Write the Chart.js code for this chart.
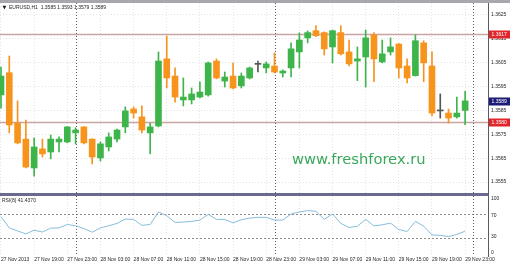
<!DOCTYPE html>
<html>
<head>
<meta charset="utf-8">
<script src="https://cdn.jsdelivr.net/npm/chart.js@4.4.1/dist/chart.umd.min.js"></script>
<style>
  html,body{margin:0;padding:0;background:#fff;}
  body{position:relative;width:510px;height:265px;overflow:hidden;}
  .topbar{position:absolute;left:0;top:0;width:510px;height:3px;background:#a8a8ac;}
  .pane{position:absolute;left:0;width:510px;}
  #paneMain{top:3px;height:193px;}
  #paneRsi{top:195px;height:70px;}
</style>
</head>
<body>
<div class="topbar"></div>
<div class="pane" id="paneMain"><canvas id="mainChart"></canvas></div>
<div class="pane" id="paneRsi"><canvas id="rsiChart"></canvas></div>
<script>
/* EURUSD H1, 27 Nov 15:00 -> 29 Nov 23:00, one candle per hour */
const SYMBOL = "EURUSD,H1";
const OPEN  = [1.35915,1.36008,1.35797,1.3573,1.35609,1.35689,1.35676,1.35718,1.35718,1.35756,1.35781,1.3573,1.35651,1.35697,1.3573,1.35781,1.35856,1.35823,1.35756,1.35785,1.36066,1.35994,1.35894,1.35894,1.35906,1.35915,1.36057,1.35973,1.35994,1.35953,1.35986,1.36043,1.36028,1.36036,1.36007,1.36028,1.36095,1.36154,1.36184,1.36176,1.36116,1.36176,1.36095,1.36057,1.36074,1.36166,1.36053,1.36095,1.36128,1.36036,1.35996,1.36133,1.36036,1.35848,1.35839,1.35823,1.3585];
const HIGH  = [1.36032,1.36078,1.3589,1.3581,1.35735,1.3573,1.35747,1.35739,1.35783,1.35777,1.35782,1.35731,1.35718,1.35756,1.35772,1.35865,1.35865,1.35869,1.35797,1.36095,1.36162,1.36028,1.35986,1.35944,1.3597,1.36053,1.36066,1.36011,1.36049,1.36007,1.36032,1.36057,1.36053,1.36091,1.3602,1.36133,1.36175,1.36183,1.36205,1.36179,1.36187,1.36205,1.36145,1.36116,1.36187,1.36176,1.36145,1.36154,1.3613,1.36066,1.36166,1.36142,1.36095,1.35919,1.35856,1.35906,1.3593];
const LOW   = [1.3586,1.35756,1.3571,1.35609,1.35575,1.35655,1.35647,1.35676,1.35714,1.3571,1.3571,1.35626,1.35638,1.3568,1.35718,1.35756,1.35818,1.35756,1.35668,1.35781,1.35944,1.35885,1.35869,1.35877,1.35902,1.3591,1.35982,1.35948,1.3594,1.35944,1.35982,1.36011,1.36007,1.36007,1.3599,1.3599,1.36028,1.36133,1.36159,1.36082,1.36049,1.36082,1.36036,1.35975,1.35948,1.3597,1.36049,1.36082,1.35986,1.35965,1.35994,1.3597,1.35827,1.35818,1.35797,1.35818,1.3579];
const CLOSE = [1.35994,1.35789,1.35714,1.35613,1.35697,1.35668,1.3573,1.3573,1.35781,1.35768,1.35714,1.35655,1.3571,1.35739,1.35768,1.35848,1.35839,1.35768,1.35781,1.36057,1.35986,1.35906,1.35906,1.35919,1.35927,1.36049,1.35986,1.3599,1.35944,1.35994,1.36028,1.36043,1.36045,1.36011,1.36015,1.36108,1.36145,1.36176,1.36163,1.36108,1.36184,1.36087,1.36045,1.36066,1.36154,1.36066,1.36087,1.36116,1.36028,1.35986,1.36142,1.36049,1.35839,1.35848,1.35818,1.35839,1.3589];
const RSI   = [65.5,46.9,41.8,36.8,43,40,46.4,46.9,52.6,50.3,45.8,39.6,46.9,50.3,54.3,61.6,61,51,52.6,73.4,67.2,56,56.5,57.7,59.9,69.5,61,61,55.3,60.4,63.2,64.4,64.4,59.9,59.9,70,73.4,75.6,74.5,61,70,54.3,47.5,49.7,61,50.3,52,54.8,44.2,40.8,57.7,49.7,35.1,34.5,32.4,35.9,41.437];

const TIME_LABELS = ["27 Nov 2013","27 Nov 19:00","27 Nov 23:00","28 Nov 03:00","28 Nov 07:00","28 Nov 11:00","28 Nov 15:00","28 Nov 19:00","28 Nov 23:00","29 Nov 03:00","29 Nov 07:00","29 Nov 11:00","29 Nov 15:00","29 Nov 19:00","29 Nov 23:00"];
const TICK_EVERY  = 4;              // one time label per 4 candles
const PRICE_TICKS = [1.3555,1.3565,1.3575,1.3585,1.3595,1.3605,1.3615,1.3625];
const LEVELS      = [1.3617,1.3580]; // horizontal lines
const SEPARATORS  = [9,33,57];       // day breaks (candle index)
const RSI_TICKS   = [100,70,30,0];
const RSI_LEVELS  = [70,30];

const X_MIN = -0.12, X_MAX = 58.76;
const GREEN = "#3db54a", ORANGE = "#f7941d", DOJI = "#555";
const GRID = "#e4e4e4", AXIS = "#5a5a66", TXT = "#1e1e1e";
const FONT = {family:"Liberation Sans", size:5};
const idx = OPEN.map((_, i) => i);

function candleColor(i){ return CLOSE[i] > OPEN[i] ? GREEN : CLOSE[i] < OPEN[i] ? ORANGE : DOJI; }

function vLines(chart, vals){
  const {ctx, chartArea:a, scales:{x}} = chart;
  ctx.save(); ctx.strokeStyle = "#5c5c5c"; ctx.lineWidth = 1; ctx.setLineDash([1,2]);
  vals.forEach(v => { const px = Math.round(x.getPixelForValue(v)) + .5; ctx.beginPath(); ctx.moveTo(px, a.top); ctx.lineTo(px, a.bottom); ctx.stroke(); });
  ctx.restore();
}
function hLines(chart, scale, vals, color, width, dash){
  const {ctx, chartArea:a} = chart;
  ctx.save(); ctx.strokeStyle = color; ctx.lineWidth = width; ctx.setLineDash(dash);
  vals.forEach(v => { const py = Math.round(scale.getPixelForValue(v)) + .5; ctx.beginPath(); ctx.moveTo(a.left, py); ctx.lineTo(a.right, py); ctx.stroke(); });
  ctx.restore();
}
function priceTag(chart, v, bg){
  const {ctx, scales:{y}} = chart;
  const py = y.getPixelForValue(v);
  ctx.save(); ctx.fillStyle = bg; ctx.fillRect(y.left + 1, Math.round(py) - 3.5, 21, 8);
  ctx.fillStyle = "#fff"; ctx.font = "5px 'Liberation Sans'"; ctx.textBaseline = "middle"; ctx.textAlign = "left";
  ctx.fillText(v.toFixed(4), y.left + 3.5, py + .5); ctx.restore();
}

const mainDecor = {
  id:"mainDecor",
  beforeDatasetsDraw(chart){
    hLines(chart, chart.scales.y, LEVELS, "#caa4a4", 1.5, []);
    vLines(chart, SEPARATORS);
  },
  afterDraw(chart){
    const {ctx} = chart; const n = OPEN.length - 1;
    ctx.save();
    ctx.fillStyle = TXT; ctx.textBaseline = "middle";
    ctx.font = "5px 'DejaVu Sans'"; ctx.fillText("\u25BC", 2.5, 4.5);
    ctx.font = "5px 'Liberation Sans'";
    ctx.fillText(`${SYMBOL}  ${OPEN[n].toFixed(4)} ${HIGH[n].toFixed(4)} ${LOW[n].toFixed(4)} ${CLOSE[n].toFixed(4)}`, 9, 4.5);
    ctx.fillStyle = "#3aa85b"; ctx.font = "14.7px 'DejaVu Sans'"; ctx.textBaseline = "alphabetic";
    ctx.fillText("www.freshforex.ru", 292, 160.5);
    ctx.restore();
    LEVELS.forEach(v => priceTag(chart, v, "#e0262a"));
    priceTag(chart, CLOSE[n], "#1c1c78");
  }
};

const rsiDecor = {
  id:"rsiDecor",
  beforeDatasetsDraw(chart){
    hLines(chart, chart.scales.y, RSI_LEVELS, "#8c8c8c", 1, [2,2]);
    vLines(chart, SEPARATORS);
  },
  afterDraw(chart){
    const {ctx} = chart;
    ctx.save(); ctx.fillStyle = TXT; ctx.font = "5px 'Liberation Sans'"; ctx.textBaseline = "middle";
    ctx.fillText(`RSI(8) ${RSI[RSI.length - 1].toFixed(4)}`, 2, 5.5);
    ctx.restore();
  }
};

function timeAxis(showLabels){
  return {
    type:"linear", min:X_MIN, max:X_MAX, offset:false, bounds:"data",
    afterBuildTicks: s => { s.ticks = TIME_LABELS.map((_, k) => ({value:k * TICK_EVERY})); },
    afterFit: s => { s.height = showLabels ? 9 : 2; s.paddingLeft = 0; s.paddingRight = 0; },
    ticks:{ display:showLabels, callback: v => TIME_LABELS[Math.round(v / TICK_EVERY)], align:"start",
            autoSkip:false, maxRotation:0, minRotation:0, font:FONT, color:TXT, padding:1 },
    grid:{ color:GRID, drawTicks:false, offset:false },
    border: showLabels ? { display:false, dash:[1,2] } : { color:"#6a6a90", width:3, dash:[1,2] }
  };
}
function valueAxis(min, max, ticks, fmt, grid){
  return {
    type:"linear", position:"right", min, max, bounds:"data", beginAtZero:false,
    afterBuildTicks: s => { s.ticks = ticks.map(v => ({value:v})); },
    afterFit: s => { s.width = 22; s.paddingTop = 0; s.paddingBottom = 0; },
    ticks:{ callback:fmt, font:FONT, color:TXT, padding:3 },
    grid:{ display:grid, color:GRID, drawTicks:false },
    border:{ color:AXIS, dash:[1,2] }
  };
}
const base = { responsive:true, maintainAspectRatio:false, animation:false, devicePixelRatio:1,
               plugins:{ legend:{display:false}, tooltip:{enabled:false} } };

new Chart(document.getElementById("mainChart"), {
  type:"bar",
  data:{ datasets:[
    { label:"wick", data: idx.map(i => ({x:i, y:[LOW[i], HIGH[i]]})), backgroundColor: idx.map(candleColor),
      barThickness:1, grouped:false, borderWidth:0 },
    { label:"body", data: idx.map(i => ({x:i, y:[Math.min(OPEN[i], CLOSE[i]), Math.max(OPEN[i], CLOSE[i])]})),
      backgroundColor: idx.map(candleColor), barThickness:6, minBarLength:1, grouped:false, borderWidth:0 }
  ]},
  options:{ ...base, layout:{padding:0},
    scales:{ x: timeAxis(false), y: valueAxis(1.3550, 1.3630, PRICE_TICKS, v => v.toFixed(4), true) } },
  plugins:[mainDecor]
});

new Chart(document.getElementById("rsiChart"), {
  type:"line",
  data:{ datasets:[{ data: RSI.map((v, i) => ({x:i, y:v})), borderColor:"#86bedb", borderWidth:1,
                     pointRadius:0, tension:0, yAxisID:"y" }]},
  options:{ ...base, layout:{padding:{top:1}},
    scales:{ x: timeAxis(true),
             y:{ type:"linear", display:false, min:0, max:100 },
             yl: valueAxis(-5.3, 105.3, RSI_TICKS, v => String(v), false) } },
  plugins:[rsiDecor]
});
</script>
</body>
</html>
